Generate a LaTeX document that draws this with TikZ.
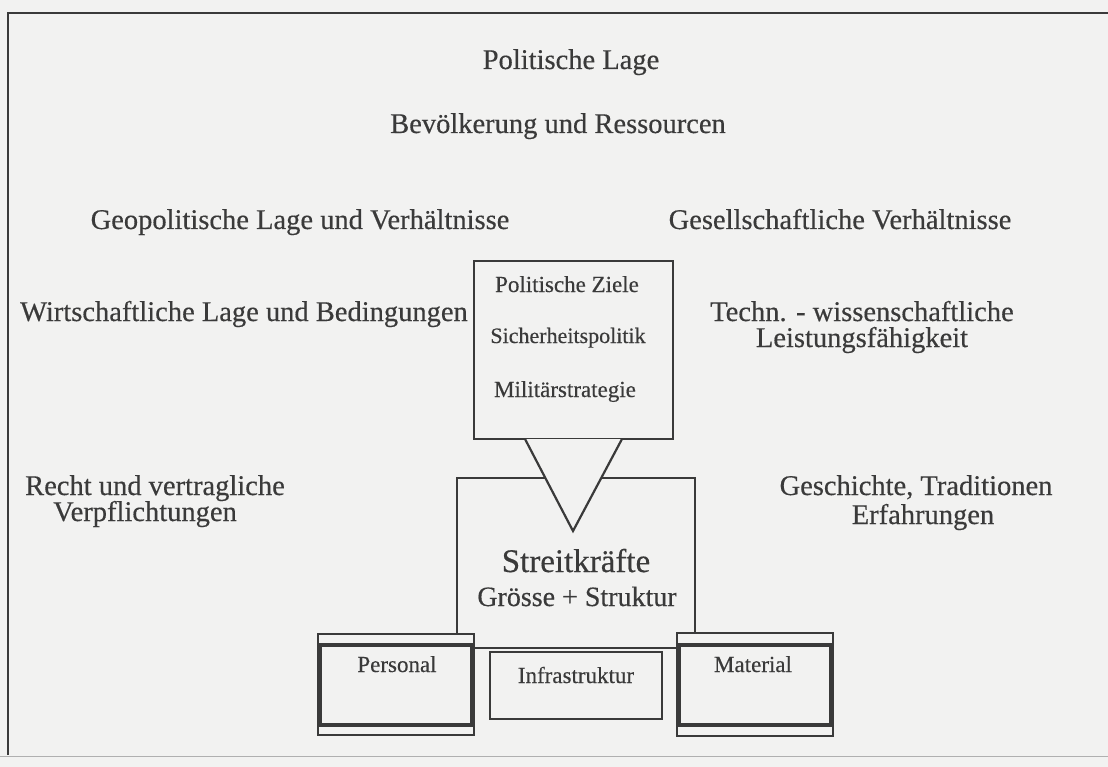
\documentclass[tikz,border=0pt]{standalone}
\usepackage{fontspec}
\setmainfont{Liberation Serif}[FakeBold=0.4]
\definecolor{paper}{RGB}{242,242,241}
\definecolor{ink}{RGB}{58,58,58}
\tikzset{
  lbl/.style={text=ink, font=\fontsize{28.5}{30}\selectfont, inner sep=0pt, anchor=base},
  small/.style={text=ink, font=\fontsize{23}{25}\selectfont, inner sep=0pt, anchor=base},
  box/.style={draw=ink, line width=2.2pt, fill=paper, inner sep=0pt},
  thinbox/.style={draw=ink, line width=1.4pt, fill=paper, inner sep=0pt},
  thickbox/.style={draw=ink, line width=3.8pt, inner sep=0pt},
  frame/.style={draw=ink, line width=2pt},
}
\begin{document}
\begin{tikzpicture}[x=1pt,y=-1pt]
\useasboundingbox (0,0) rectangle (1108,767);
\fill[paper] (0,0) rectangle (1108,767);
% frame
\coordinate (ftl) at (8,13);
\coordinate (fbl) at (8,755);
\coordinate (ftr) at (1108,13);
\coordinate (fbb) at (0,756);
\coordinate (fbr) at (1108,756);
\draw[frame] (fbl) -- (ftl) -- (ftr);
\draw[draw=ink!40, line width=1pt] (fbb) -- (fbr);

% outer labels
\node[lbl] (pl) at (571,69) {Politische Lage};
\node[lbl] (br) at (558,133) {Bevölkerung und Ressourcen};
\node[lbl] (geo) at (300,229) {Geopolitische Lage und Verhältnisse};
\node[lbl] (ges) at (840,229) {Gesellschaftliche Verhältnisse};
\node[lbl, anchor=base west] (wi) at (20,321) {Wirtschaftliche Lage und Bedingungen};
\node[lbl] (te1) at (862,321) {Techn. - wissenschaftliche};
\node[lbl] (te2) at (862,347) {Leistungsfähigkeit};
\node[lbl] (re1) at (155,495) {Recht und vertragliche};
\node[lbl] (re2) at (145,521) {Verpflichtungen};
\node[lbl] (gs1) at (916,495) {Geschichte, Traditionen};
\node[lbl] (gs2) at (923,524) {Erfahrungen};

% top box
\node[box, line width=2pt, minimum width=199pt, minimum height=178pt] (ziele) at (573,350) {};
\node[small] (pz) at (567,292) {Politische Ziele};
\node[small, font=\fontsize{22}{25}\selectfont] (sp) at (568,343) {Sicherheitspolitik};
\node[small] (ms) at (565,397) {Militärstrategie};

% Streitkraefte box
\node[box, minimum width=238pt, minimum height=170pt] (sk) at (576,563) {};
\coordinate (tl) at (525,439);
\coordinate (tr) at (622,439);
\coordinate (tip) at (573,531);
\fill[paper] (tl) -- (tip) -- (tr) -- cycle;
\draw[draw=ink, line width=2.2pt, line join=miter] (tl) -- (tip) -- (tr);
\node[lbl, font=\fontsize{33}{36}\selectfont] (skt) at (576,572) {Streitkräfte};
\node[lbl, font=\fontsize{28}{30}\selectfont] (gst) at (577,606) {Grösse + Struktur};

% Personal
\node[thinbox, minimum width=156pt, minimum height=101pt] (pers) at (396,684.5) {};
\draw[thickbox] (320,645) rectangle (472,725);
\node[small] (perst) at (397,672) {Personal};

% Infrastruktur
\node[box, minimum width=172pt, minimum height=67pt] (infra) at (576,685.5) {};
\node[small] (infrat) at (576,683) {Infrastruktur};

% Material
\node[thinbox, minimum width=156pt, minimum height=103pt] (mat) at (755,684.5) {};
\draw[thickbox] (679,645) rectangle (831,725);
\node[small] (matt) at (753,672) {Material};
\end{tikzpicture}
\end{document}
